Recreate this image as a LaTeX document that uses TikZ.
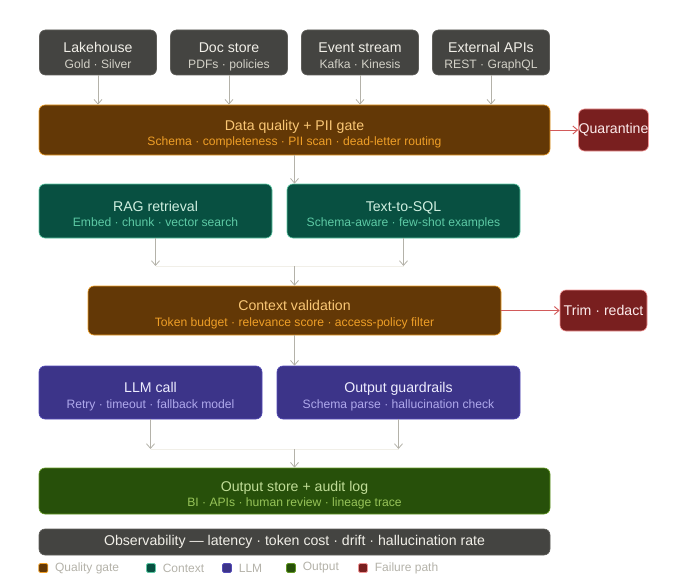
\documentclass[tikz,border=0pt]{standalone}
\usepackage{fontspec}
\setmainfont{Liberation Sans}
\usetikzlibrary{arrows.meta,positioning}
\definecolor{srcF}{HTML}{444441}
\definecolor{srcD}{HTML}{5F5E5A}
\definecolor{srcT}{HTML}{F1EFE8}
\definecolor{srcS}{HTML}{D3D1C7}
\definecolor{amF}{HTML}{633806}
\definecolor{amD}{HTML}{EF9F27}
\definecolor{amT}{HTML}{FAC775}
\definecolor{amS}{HTML}{EF9F27}
\definecolor{tlF}{HTML}{085041}
\definecolor{tlD}{HTML}{5DCAA5}
\definecolor{tlT}{HTML}{CFEFE0}
\definecolor{tlS}{HTML}{5DCAA5}
\definecolor{puF}{HTML}{3C3489}
\definecolor{puD}{HTML}{534AB7}
\definecolor{puT}{HTML}{EEEDFE}
\definecolor{puS}{HTML}{AFA9EC}
\definecolor{grF}{HTML}{27500A}
\definecolor{grD}{HTML}{639922}
\definecolor{grT}{HTML}{C0DD97}
\definecolor{grS}{HTML}{97C459}
\definecolor{rdF}{HTML}{791F1F}
\definecolor{rdD}{HTML}{F09595}
\definecolor{rdT}{HTML}{FCEBEB}
\definecolor{rdA}{HTML}{D25A5A}
\definecolor{arrG}{HTML}{B4B2A9}
\definecolor{faint}{HTML}{F1EFE8}
\tikzset{
  card/.style={draw, rounded corners=4.5pt, align=center, inner sep=0pt, line width=0.5pt,
    font=\fontsize{10.6}{11.5}\selectfont},
  twoline/.style={card, text height=25.7pt, text depth=2pt},
  src/.style={twoline, fill=srcF, draw=srcD, text=srcT, minimum width=87.75pt, minimum height=33.75pt},
  gatebox/.style={twoline, fill=amF, draw=amD, text=amT},
  ctxbox/.style={twoline, fill=tlF, draw=tlD, text=tlT, minimum width=174.75pt, minimum height=40.5pt},
  llmbox/.style={twoline, fill=puF, draw=puD, text=puT, minimum height=39.75pt},
  outbox/.style={twoline, fill=grF, draw=grD, text=grT},
  obsbox/.style={card, fill=srcF, draw=srcD, text=srcT},
  failbox/.style={card, fill=rdF, draw=rdD, text=rdT},
  arr/.style={-{Straight Barb[length=3.5pt,width=6pt]}, draw=arrG, line width=0.6pt},
  farr/.style={-{Straight Barb[length=3.5pt,width=6pt]}, draw=rdA, line width=0.7pt},
  lgsq/.style={draw, rounded corners=1pt, minimum size=6.75pt, inner sep=0pt, line width=0.6pt},
  lgtxt/.style={text=arrG, font=\fontsize{9}{10}\selectfont, inner sep=0pt, anchor=west},
}
\newcommand\subln[2]{{\fontsize{9.1}{11.8}\selectfont\color{#1}#2}}
\begin{document}
\begin{tikzpicture}[x=0.75pt,y=-0.75pt]
\useasboundingbox (0,0) rectangle (700,585);
% sources
\node[src] (lake) at (98,52.5) {Lakehouse\\\subln{srcS}{Gold · Silver}};
\node[src] (docs) at (229,52.5) {Doc store\\\subln{srcS}{PDFs · policies}};
\node[src] (evts) at (360,52.5) {Event stream\\\subln{srcS}{Kafka · Kinesis}};
\node[src] (apis) at (491,52.5) {External APIs\\\subln{srcS}{REST · GraphQL}};
% quality gate
\node[gatebox, minimum width=383.25pt, minimum height=37.5pt] (gate) at (294.5,130)
  {Data quality + PII gate\\\subln{amS}{Schema · completeness · PII scan · dead-letter routing}};
\node[failbox, minimum width=50.25pt, minimum height=31.5pt] (quar) at (613.5,130) {Quarantine};
\foreach \s in {lake,docs,evts,apis}
  \draw[arr] (\s.south) -- (\s.south |- gate.north);
\draw[farr] (gate.east) -- (quar.west);
% context
\node[ctxbox] (rag) at (155.5,211) {RAG retrieval\\\subln{tlS}{Embed · chunk · vector search}};
\node[ctxbox] (sql) at (403.5,211) {Text-to-SQL\\\subln{tlS}{Schema-aware · few-shot examples}};
\draw[arr] (gate.south) -- (gate.south |- rag.north);
\node[gatebox, minimum width=309.75pt, minimum height=36.75pt] (cval) at (294.5,310.5)
  {Context validation\\\subln{amS}{Token budget · relevance score · access-policy filter}};
\node[failbox, minimum width=65.25pt, minimum height=30.75pt] (trim) at (603.5,310.5) {Trim · redact};
\coordinate (j1) at (294.5,266);
\draw[faint, line width=0.6pt] (rag.south |- j1) -- (sql.south |- j1);
\draw[arr] (rag.south) -- (rag.south |- j1);
\draw[arr] (sql.south) -- (sql.south |- j1);
\draw[arr] (j1) -- (cval.north);
\draw[farr] (cval.east) -- (trim.west);
% llm
\node[llmbox, minimum width=167.25pt] (llm) at (150.5,392.5) {LLM call\\\subln{puS}{Retry · timeout · fallback model}};
\node[llmbox, minimum width=182.25pt] (guard) at (398.5,392.5) {Output guardrails\\\subln{puS}{Schema parse · hallucination check}};
\draw[arr] (cval.south) -- (cval.south |- llm.north);
\node[outbox, minimum width=383.25pt, minimum height=34.5pt] (store) at (294.5,491)
  {Output store + audit log\\\subln{grS}{BI · APIs · human review · lineage trace}};
\coordinate (j2) at (294.5,449);
\draw[faint, line width=0.6pt] (llm.south |- j2) -- (guard.south |- j2);
\draw[arr] (llm.south) -- (llm.south |- j2);
\draw[arr] (guard.south) -- (guard.south |- j2);
\draw[arr] (j2) -- (store.north);
% observability
\node[obsbox, minimum width=383.25pt, minimum height=19.5pt] (obs) at (294.5,542)
  {Observability — latency · token cost · drift · hallucination rate};
% legend
\node[lgsq, fill=amF, draw=amD] (k1) at (43.3,568) {};
\node[lgtxt, right=5pt of k1] {Quality gate};
\node[lgsq, fill=tlF, draw=tlD] (k2) at (151,568) {};
\node[lgtxt, right=5pt of k2] {Context};
\node[lgsq, fill=puF, draw=puD] (k3) at (227,568) {};
\node[lgtxt, right=5pt of k3] {LLM};
\node[lgsq, fill=grF, draw=grD] (k4) at (291,568) {};
\node[lgtxt, right=5pt of k4] {Output};
\node[lgsq, fill=rdF, draw=rdD] (k5) at (363,568) {};
\node[lgtxt, right=5pt of k5] {Failure path};
\end{tikzpicture}
\end{document}
